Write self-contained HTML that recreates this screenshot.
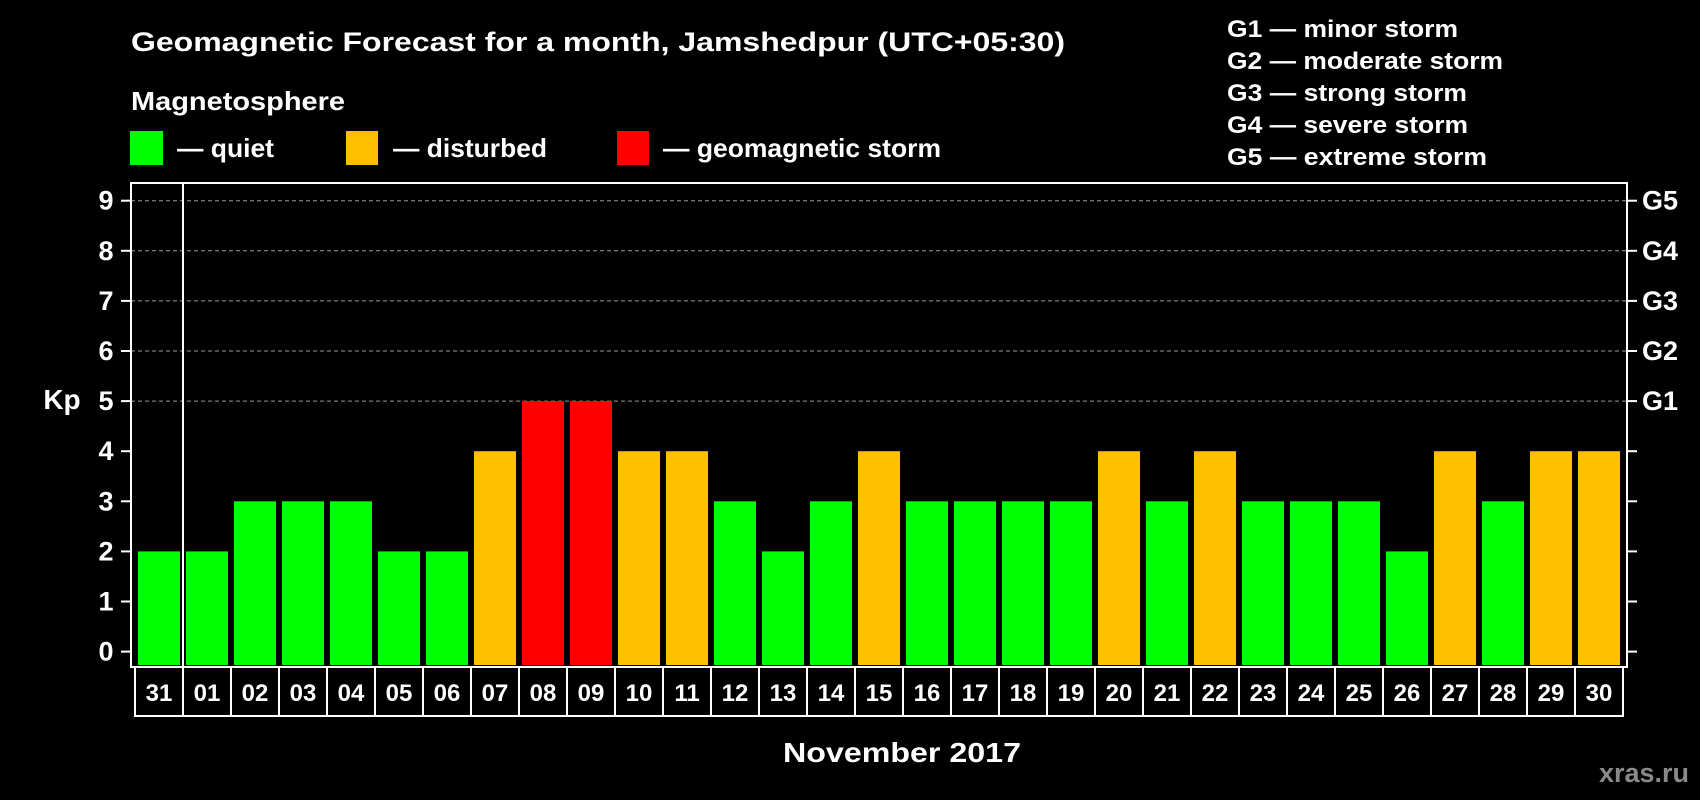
<!DOCTYPE html>
<html><head><meta charset="utf-8"><style>
html,body{margin:0;padding:0;background:#000;width:1700px;height:800px;overflow:hidden}
text{font-family:"Liberation Sans",Arial,sans-serif;font-weight:bold;fill:#fff}
</style></head><body>
<svg id="chart" width="1700" height="800" xmlns="http://www.w3.org/2000/svg">
<rect width="1700" height="800" fill="#000"/>
<text x="131" y="51" font-size="27" textLength="934" lengthAdjust="spacingAndGlyphs">Geomagnetic Forecast for a month, Jamshedpur (UTC+05:30)</text>
<text x="131" y="110" font-size="26" textLength="214" lengthAdjust="spacingAndGlyphs">Magnetosphere</text>
<g>
<rect x="130" y="131" width="33" height="34" fill="#00ff00"/>
<text x="177" y="157" font-size="26" textLength="97" lengthAdjust="spacingAndGlyphs">— quiet</text></g>
<g>
<rect x="346" y="131" width="32" height="34" fill="#ffc000"/>
<text x="393" y="157" font-size="26" textLength="154" lengthAdjust="spacingAndGlyphs">— disturbed</text></g>
<g>
<rect x="617" y="131" width="32" height="34" fill="#ff0000"/>
<text x="663" y="157" font-size="26" textLength="278" lengthAdjust="spacingAndGlyphs">— geomagnetic storm</text></g>
<g font-size="24">
<text x="1227" y="37" textLength="231" lengthAdjust="spacingAndGlyphs">G1 — minor storm</text>
<text x="1227" y="69" textLength="276" lengthAdjust="spacingAndGlyphs">G2 — moderate storm</text>
<text x="1227" y="101" textLength="240" lengthAdjust="spacingAndGlyphs">G3 — strong storm</text>
<text x="1227" y="133" textLength="241" lengthAdjust="spacingAndGlyphs">G4 — severe storm</text>
<text x="1227" y="165" textLength="260" lengthAdjust="spacingAndGlyphs">G5 — extreme storm</text>
</g>
<text x="62" y="409" font-size="28" text-anchor="middle">Kp</text>
<text x="902" y="762" font-size="28" text-anchor="middle" textLength="238" lengthAdjust="spacingAndGlyphs">November 2017</text>
<text x="1689" y="782" font-size="27" text-anchor="end" style="fill:#8a8a8a">xras.ru</text>
<g id="grid"></g><g id="bars"></g><g id="axes"></g>
</svg>
<script>
const days = ["31","01","02","03","04","05","06","07","08","09","10","11","12","13","14","15","16","17","18","19","20","21","22","23","24","25","26","27","28","29","30"];
const kpValues = [2,2,3,3,3,2,2,4,5,5,4,4,3,2,3,4,3,3,3,3,4,3,4,3,3,3,2,4,3,4,4];
const yTicks = [0,1,2,3,4,5,6,7,8,9];
const gLabels = ["G1","G2","G3","G4","G5"];
const gLevels = [5,6,7,8,9];

const NS="http://www.w3.org/2000/svg";
const plotL=131, plotR=1627, plotT=183, plotB=667;
const y0=651.6, unit=50.1;
const slot=48, barW=42, firstX=138;
function yScale(v){return y0-v*unit;}
function xScale(i){return firstX+i*slot;}
function mk(tag,attrs,parent){const e=document.createElementNS(NS,tag);for(const k in attrs)e.setAttribute(k,attrs[k]);parent.appendChild(e);return e;}
const grid=document.getElementById('grid'),bars=document.getElementById('bars'),axes=document.getElementById('axes');

gLevels.forEach((v)=>{
  const l=mk('line',{x1:plotL,x2:plotR,y1:yScale(v),y2:yScale(v),stroke:'#9a9a9a','stroke-width':1,'stroke-dasharray':'4,3'},grid);
  
  
});
kpValues.forEach((v,i)=>{
  const c=v>=5?'#ff0000':(v>=4?'#ffc000':'#00ff00');
  const r=mk('rect',{x:xScale(i),y:yScale(v),width:barW,height:plotB-yScale(v)-2,fill:c},bars);
  
  
});
const frame=mk('rect',{x:plotL,y:plotT,width:plotR-plotL,height:plotB-plotT,fill:'none',stroke:'#fff','stroke-width':2},axes);


const md=mk('line',{x1:xScale(1)-3,x2:xScale(1)-3,y1:plotT,y2:plotB,stroke:'#fff','stroke-width':2},axes);


yTicks.forEach((v)=>{
  const y=yScale(v);
  mk('line',{x1:plotL-10,x2:plotL,y1:y,y2:y,stroke:'#fff','stroke-width':2},axes);
  mk('line',{x1:plotR,x2:plotR+10,y1:y,y2:y,stroke:'#fff','stroke-width':2},axes);
  const t=mk('text',{x:106,y:y+9,'font-size':27,'text-anchor':'middle'},axes);
  t.textContent=v;
  
  
});
gLevels.forEach((v,i)=>{
  const t=mk('text',{x:1642,y:yScale(v)+9,'font-size':27},axes);
  t.textContent=gLabels[i];
  
  
});
const boxL=xScale(0)-3, boxR=xScale(days.length-1)+barW+3, boxT=plotB, boxB=716;
mk('rect',{x:boxL,y:boxT,width:boxR-boxL,height:boxB-boxT,fill:'none',stroke:'#fff','stroke-width':2},axes);
days.forEach((d,i)=>{
  if(i>0) mk('line',{x1:xScale(i)-3,x2:xScale(i)-3,y1:boxT,y2:boxB,stroke:'#fff','stroke-width':2},axes);
  const t=mk('text',{x:xScale(i)+barW/2,y:701,'font-size':24,'text-anchor':'middle'},axes);
  t.textContent=d;
  
  
});
</script>
</body></html>
